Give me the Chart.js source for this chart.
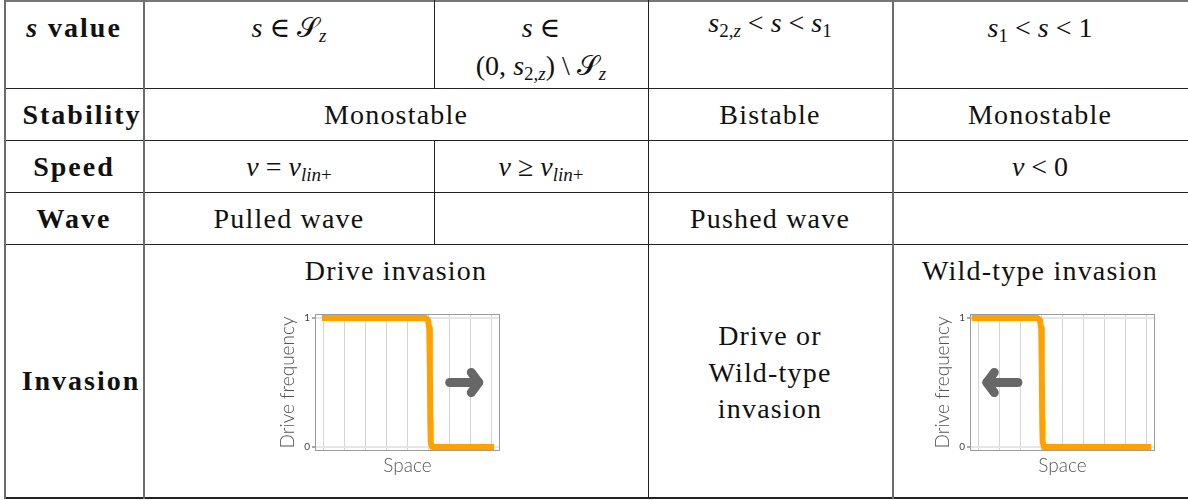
<!DOCTYPE html>
<html>
<head>
<meta charset="utf-8">
<script src="https://cdn.jsdelivr.net/npm/chart.js@4.4.1/dist/chart.umd.min.js"></script>
<style>
  body { margin: 0; background: #fff; width: 1188px; height: 500px; position: relative; overflow: hidden;
         font-family: "Liberation Serif", "DejaVu Serif", serif; color: #111; }
  .h { position: absolute; height: 1px; background: #222; }
  .v { position: absolute; width: 2px; background: #6c6c6c; }
  .v.dark { width: 1px; background: #222; }
  .t { position: absolute; font-size: 28px; line-height: 32px; white-space: nowrap;
       transform: translateX(-50%); letter-spacing: 1.2px; }
  .b { font-weight: bold; letter-spacing: 2px; }
  .m { letter-spacing: 0; }
  .m i { font-style: italic; }
  .m sub { font-size: 19px; vertical-align: -5px; line-height: 0; }
  .scr { font-family: "DejaVu Sans", "DejaVu Serif", serif; font-style: normal; }
  canvas { position: absolute; }
</style>
</head>
<body>
<!-- table rules -->
<div class="h" style="left:4px;top:0;width:1184px;height:2px;background:#777"></div>
<div class="h" style="left:4px;top:88px;width:1184px"></div>
<div class="h" style="left:4px;top:140px;width:1184px"></div>
<div class="h" style="left:4px;top:192px;width:1184px"></div>
<div class="h" style="left:4px;top:244px;width:1184px"></div>
<div class="h" style="left:4px;top:497px;width:1184px;height:2px"></div>
<div class="v" style="left:4px;top:0;height:499px"></div>
<div class="v" style="left:143px;top:0;height:499px"></div>
<div class="v dark" style="left:434px;top:0;height:88px"></div>
<div class="v dark" style="left:434px;top:140px;height:104px"></div>
<div class="v dark" style="left:648px;top:0;height:499px"></div>
<div class="v" style="left:892px;top:0;height:499px"></div>

<!-- header row -->
<div class="t b" style="left:74px;top:12px"><i style="font-weight:bold">s</i> value</div>
<div class="t m" style="left:289px;top:12px"><i>s</i> ∈ <span class="scr">𝒮</span><sub><i>z</i></sub></div>
<div class="t m" style="left:541px;top:12px"><i>s</i> ∈</div>
<div class="t m" style="left:541px;top:50px">(0, <i>s</i><sub>2,<i>z</i></sub>) \ <span class="scr">𝒮</span><sub><i>z</i></sub></div>
<div class="t m" style="left:770px;top:7px"><i>s</i><sub>2,<i>z</i></sub> &lt; <i>s</i> &lt; <i>s</i><sub>1</sub></div>
<div class="t m" style="left:1040px;top:12px"><i>s</i><sub>1</sub> &lt; <i>s</i> &lt; 1</div>

<!-- stability -->
<div class="t b" style="left:82px;top:99px">Stability</div>
<div class="t" style="left:396px;top:99px">Monostable</div>
<div class="t" style="left:770px;top:99px">Bistable</div>
<div class="t" style="left:1040px;top:99px">Monostable</div>

<!-- speed -->
<div class="t b" style="left:74px;top:151px">Speed</div>
<div class="t m" style="left:289px;top:151px"><i>v</i> = <i>v</i><sub><i>lin</i>+</sub></div>
<div class="t m" style="left:541px;top:151px"><i>v</i> ≥ <i>v</i><sub><i>lin</i>+</sub></div>
<div class="t m" style="left:1040px;top:151px"><i>v</i> &lt; 0</div>

<!-- wave -->
<div class="t b" style="left:74px;top:203px">Wave</div>
<div class="t" style="left:289px;top:203px">Pulled wave</div>
<div class="t" style="left:770px;top:203px">Pushed wave</div>

<!-- invasion -->
<div class="t b" style="left:81px;top:365px">Invasion</div>
<div class="t" style="left:396px;top:255px">Drive invasion</div>
<div class="t" style="left:770px;top:320px">Drive or</div>
<div class="t" style="left:770px;top:357px">Wild-type</div>
<div class="t" style="left:770px;top:393px">invasion</div>
<div class="t" style="left:1040px;top:255px">Wild-type invasion</div>

<canvas id="driveChart" width="228" height="178" style="left:276px;top:306px"></canvas>
<canvas id="wildChart" width="228" height="178" style="left:931px;top:306px"></canvas>

<script>
// drive invasion: front sits at space ~5, moves right
const driveSpace = [-0.05, 4.85, 4.97, 5.03, 5.06, 5.08, 5.1, 5.16, 8.1]
const driveFreq  = [1, 1, 0.985, 0.92, 0.6, 0.2, 0.04, 0, 0]
const driveArrowShaftX = [6.0, 7.37]
const driveArrowShaftY = [0.5, 0.5]
const driveArrowHeadX = [7.02, 7.37, 7.02]
const driveArrowHeadY = [0.578, 0.5, 0.422]

// wild-type invasion: front at ~3, moves left
const wildSpace = [-0.3, 2.8, 2.93, 2.99, 3.02, 3.04, 3.06, 3.12, 8.2]
const wildFreq  = [1, 1, 0.985, 0.92, 0.6, 0.2, 0.04, 0, 0]
const wildArrowShaftX = [1.89, 0.42]
const wildArrowShaftY = [0.5, 0.5]
const wildArrowHeadX = [0.77, 0.42, 0.77]
const wildArrowHeadY = [0.578, 0.5, 0.422]

const spaceGrid = [0, 1, 2, 3, 4, 5, 6, 7, 8]
const freqTicks = [0, 1]

const ORANGE = "#ffa200"
const ARROW = "#676767"
const LABEL_FONT = { family: "Lato", size: 19, weight: "300" }

const framePlugin = {
  id: "frame",
  beforeDatasetsDraw(chart) {
    const { ctx, chartArea: a } = chart
    ctx.save()
    ctx.strokeStyle = "#9c9c9c"
    ctx.lineWidth = 1
    ctx.strokeRect(a.left + 0.5, a.top + 0.5, a.width - 1, a.height - 1)
    ctx.restore()
  },
}

const toPts = (xs, ys) => xs.map((x, i) => ({ x, y: ys[i] }))

function miniChart(id, space, freq, shaftX, shaftY, headX, headY) {
  const arrowStyle = {
    borderColor: ARROW, borderWidth: 9, pointRadius: 0,
    borderCapStyle: "round", borderJoinStyle: "round", fill: false,
  }
  return new Chart(document.getElementById(id), {
    type: "line",
    data: {
      datasets: [
        { data: toPts(space, freq), borderColor: ORANGE, borderWidth: 6, pointRadius: 0,
          tension: 0, borderJoinStyle: "round", fill: false },
        { data: toPts(shaftX, shaftY), ...arrowStyle },
        { data: toPts(headX, headY), ...arrowStyle },
      ],
    },
    options: {
      responsive: false,
      animation: false,
      events: [],
      layout: { padding: { top: 8, right: 4, left: 0, bottom: 0 } },
      plugins: { legend: { display: false }, tooltip: { enabled: false } },
      scales: {
        x: {
          type: "linear", min: -0.38, max: 8.38,
          afterBuildTicks: s => { s.ticks = spaceGrid.map(v => ({ value: v })) },
          afterFit: s => { s.height = 33 },
          ticks: { display: false },
          grid: { color: "#d4d4d4", lineWidth: 1, drawTicks: false },
          border: { display: false },
          title: { display: true, text: "Space", color: "#555", font: LABEL_FONT, padding: { top: 0, bottom: 7 } },
        },
        y: {
          type: "linear", min: -0.031, max: 1.031,
          afterBuildTicks: s => { s.ticks = freqTicks.map(v => ({ value: v })) },
          afterFit: s => { s.width = 39 },
          ticks: { color: "#444", font: { family: "Lato", size: 10 }, padding: 2 },
          grid: { color: "#e6e6e6", lineWidth: 2, tickLength: 3, tickColor: "#aaa" },
          border: { display: false },
          title: { display: true, text: "Drive frequency", color: "#555", font: LABEL_FONT, padding: { top: 0, bottom: 0 } },
        },
      },
    },
    plugins: [framePlugin],
  })
}

miniChart("driveChart", driveSpace, driveFreq, driveArrowShaftX, driveArrowShaftY, driveArrowHeadX, driveArrowHeadY)
miniChart("wildChart", wildSpace, wildFreq, wildArrowShaftX, wildArrowShaftY, wildArrowHeadX, wildArrowHeadY)
</script>
</body>
</html>
